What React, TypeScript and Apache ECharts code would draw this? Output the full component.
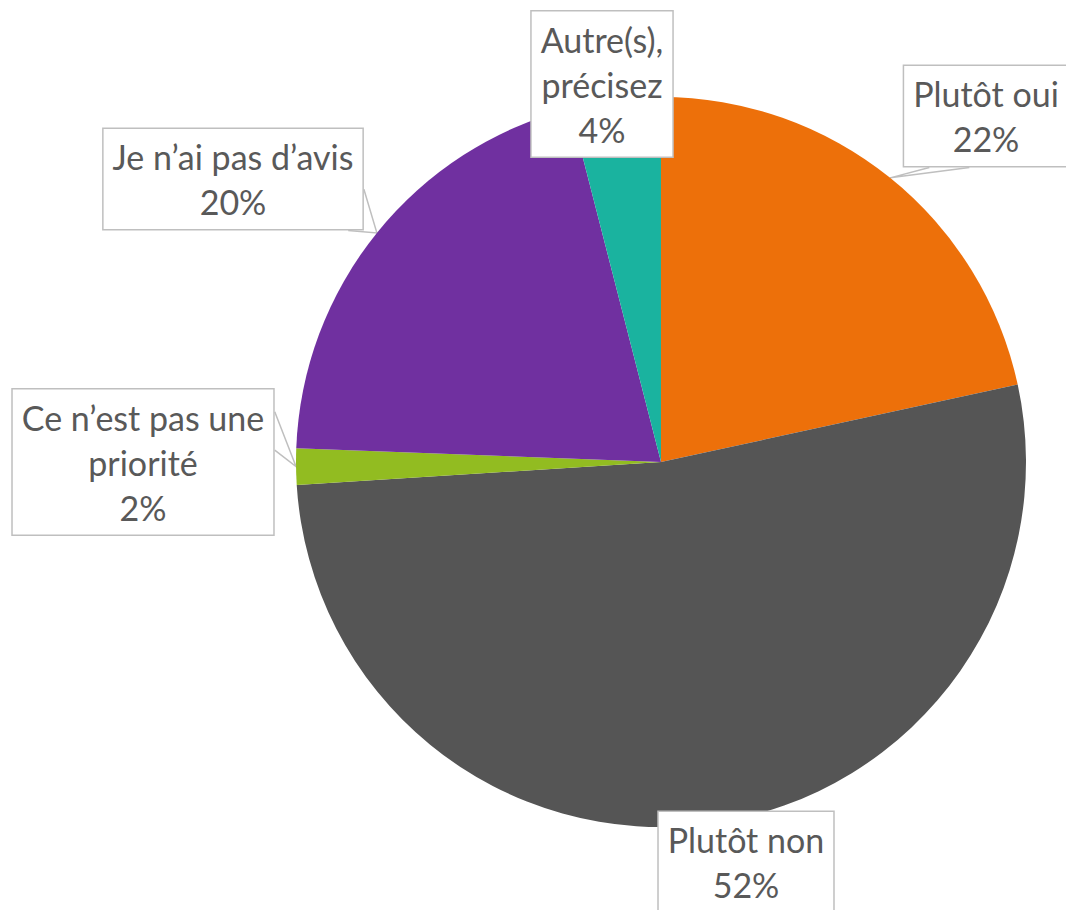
import React, { useEffect, useRef } from "react";
import * as echarts from "echarts";

const categories = [
  "Plutôt oui",
  "Plutôt non",
  "Ce n’est pas une priorité",
  "Je n’ai pas d’avis",
  "Autre(s), précisez",
];
const labelTexts = [
  "Plutôt oui",
  "Plutôt non",
  "Ce n’est pas une\npriorité",
  "Je n’ai pas d’avis",
  "Autre(s),\nprécisez",
];
const values = [21.6, 52.4, 1.6, 20.4, 4.0];
const colors = ["#ED700A", "#555555", "#92BC21", "#7030A0", "#1AB39F"];
const showPointer = [true, false, true, true, false];

// label box centres (layout) and pointer bases as fractions of the box
const labelCenters: [number, number][] = [
  [986, 116],
  [746, 862],
  [143, 462],
  [233, 179],
  [602, 84],
];
// pointer base points: [fx, fy] relative to box (0..1)
const pointerBases: [number, number][][] = [
  [[0.16, 1], [0.4, 1]],
  [],
  [[1, 0.16], [1, 0.42]],
  [[1, 0.6], [0.94, 1]],
  [],
];

export default function App() {
  const ref = useRef<HTMLDivElement>(null);
  useEffect(() => {
    if (!ref.current) return;
    const chart = echarts.init(ref.current, undefined, { renderer: "svg" });
    chart.setOption({
      animation: false,
      backgroundColor: "#ffffff",
      series: [
        {
          type: "pie",
          center: [661, 462],
          radius: 365,
          startAngle: 90,
          clockwise: true,
          avoidLabelOverlap: false,
          data: categories.map((c, i) => ({
            name: c,
            value: values[i],
            itemStyle: { color: colors[i] },
            labelLine: { show: showPointer[i] },
          })),
          itemStyle: { borderWidth: 0 },
          label: {
            show: true,
            position: "outside",
            formatter: (p: any) =>
              labelTexts[p.dataIndex] + "\n" + Math.round(p.percent) + "%",
            fontFamily: "Lato, 'Open Sans', sans-serif",
            fontSize: 34,
            lineHeight: 45,
            color: "#595959",
            align: "center",
            backgroundColor: "#ffffff",
            borderColor: "#BFBFBF",
            borderWidth: 1.5,
            padding: [5, 9, 5, 9],
          },
          labelLine: {
            show: true,
            length: 20,
            length2: 20,
            smooth: false,
            lineStyle: { color: "#BFBFBF", width: 1.5 },
          },
          labelLayout: (params: any) => {
            const i = params.dataIndex;
            const [cx, cy] = labelCenters[i];
            const w = params.labelRect.width;
            const h = params.labelRect.height;
            const res: any = {
              x: cx,
              y: cy,
              align: "center",
              verticalAlign: "middle",
            };
            const pts = params.labelLinePoints;
            if (showPointer[i] && pts && pts.length) {
              const tip = pts[0];
              const left = cx - w / 2;
              const top = cy - h / 2;
              const b = pointerBases[i];
              res.labelLinePoints = [
                [left + b[0][0] * w, top + b[0][1] * h],
                [tip[0], tip[1]],
                [left + b[1][0] * w, top + b[1][1] * h],
              ];
            }
            return res;
          },
        },
      ],
    });
    return () => chart.dispose();
  }, []);
  return (
    <div
      ref={ref}
      style={{ position: "absolute", left: 0, top: 0, width: 1066, height: 910 }}
    />
  );
}
